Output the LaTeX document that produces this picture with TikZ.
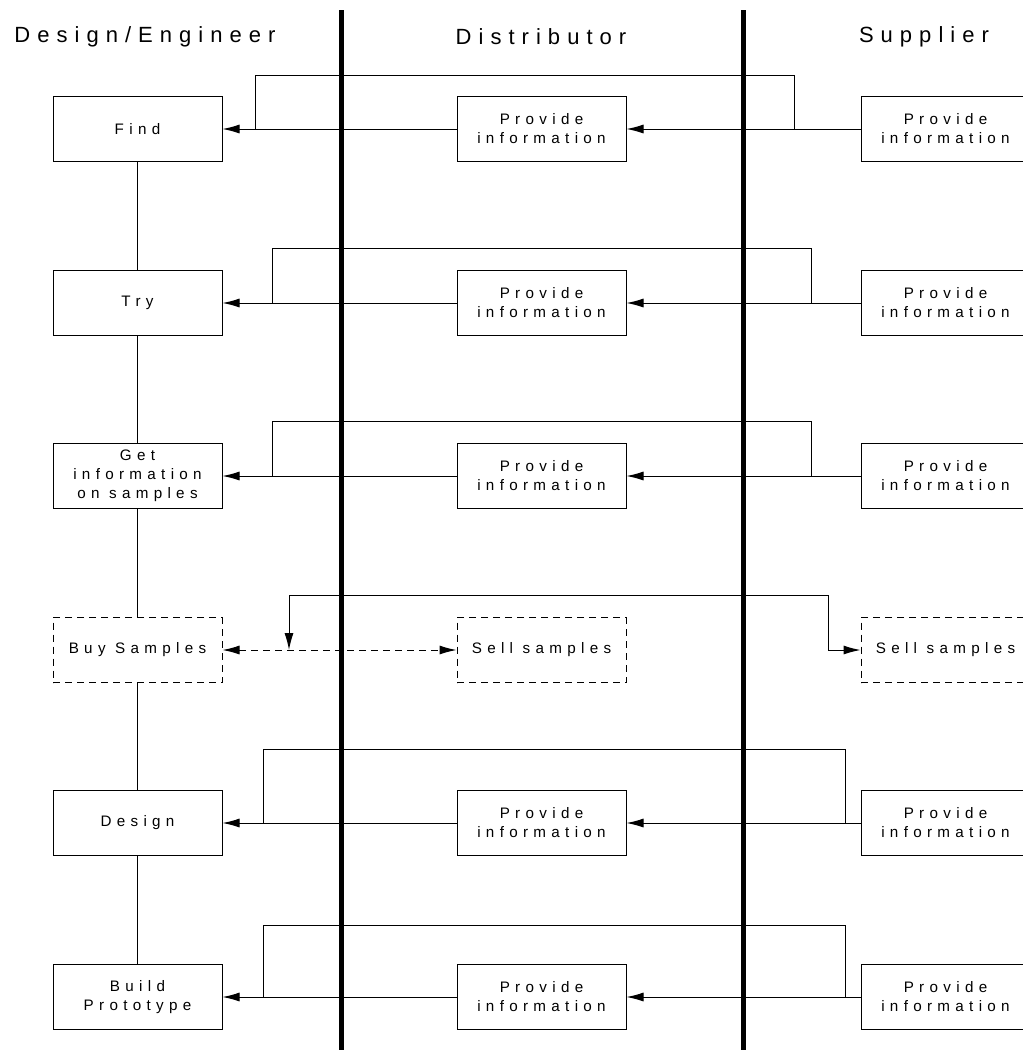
\documentclass[tikz,border=0pt]{standalone}
\usepackage{fontspec}
\newfontfamily\headfont[LetterSpace=32]{Liberation Sans}
\newfontfamily\boxfont[LetterSpace=35]{Liberation Sans}
\usetikzlibrary{arrows.meta}

\begin{document}
\begin{tikzpicture}[x=0.5pt,y=-0.5pt,line width=0.5pt,
  box/.style={draw,rectangle,minimum width=84.5pt,minimum height=32.5pt,align=center,
    font=\boxfont\fontsize{7.6}{9.5}\selectfont},
  dbox/.style={box,dash pattern=on 3.5pt off 2.5pt},
  lane/.style={line width=2.5pt},
  flow/.style={-{Latex[length=8.5pt,width=4.5pt]}},
  twoflow/.style={{Latex[length=8.5pt,width=4.5pt]}-{Latex[length=8.5pt,width=4.5pt]}},
  head/.style={font=\headfont\fontsize{11}{13}\selectfont}]
  \clip (0,0) rectangle (1023,1050);

  % lanes
  \node[head] (hdesign) at (145,37) {Design/Engineer};
  \node[head] (hdist) at (541,37) {Distributor};
  \node[head] (hsup) at (924,37) {Supplier};
  \draw[lane] (341,10) -- (341,1050);
  \draw[lane] (743,10) -- (743,1050);

  % design / engineer
  \node[box] (find) at (137.5,129) {Find};
  \node[box] (try) at (137.5,303) {Try};
  \node[box] (getinfo) at (137.5,476) {Get\\information\\on samples};
  \node[dbox] (buy) at (137.5,650) {Buy Samples};
  \node[box] (design) at (137.5,823) {Design};
  \node[box] (build) at (137.5,997) {Build\\Prototype};

  % distributor
  \node[box] (dist1) at (541.5,129) {Provide\\information};
  \node[box] (dist2) at (541.5,303) {Provide\\information};
  \node[box] (dist3) at (541.5,476) {Provide\\information};
  \node[dbox] (dist4) at (541.5,650) {Sell samples};
  \node[box] (dist5) at (541.5,823) {Provide\\information};
  \node[box] (dist6) at (541.5,997) {Provide\\information};

  % supplier
  \node[box] (sup1) at (945.5,129) {Provide\\information};
  \node[box] (sup2) at (945.5,303) {Provide\\information};
  \node[box] (sup3) at (945.5,476) {Provide\\information};
  \node[dbox] (sup4) at (945.5,650) {Sell samples};
  \node[box] (sup5) at (945.5,823) {Provide\\information};
  \node[box] (sup6) at (945.5,997) {Provide\\information};

  % design chain
  \draw (find) -- (try);
  \draw (try) -- (getinfo);
  \draw (getinfo) -- (buy);
  \draw (buy) -- (design);
  \draw (design) -- (build);

  % information flows
  \draw[flow] (sup1) -- (dist1);
  \draw[flow] (dist1) -- (find);
  \draw (sup1.west) -| (794,75) -| (255,129);

  \draw[flow] (sup2) -- (dist2);
  \draw[flow] (dist2) -- (try);
  \draw (sup2.west) -| (811,248) -| (272,303);

  \draw[flow] (sup3) -- (dist3);
  \draw[flow] (dist3) -- (getinfo);
  \draw (sup3.west) -| (811,421) -| (272,476);

  \draw[twoflow,dash pattern=on 3.5pt off 2.5pt] (buy) -- (dist4);
  \draw[twoflow] (289,650) |- (828,595) |- (sup4.west);

  \draw[flow] (sup5) -- (dist5);
  \draw[flow] (dist5) -- (design);
  \draw (sup5.west) -| (845,749) -| (263,823);

  \draw[flow] (sup6) -- (dist6);
  \draw[flow] (dist6) -- (build);
  \draw (sup6.west) -| (845,925) -| (263,997);
\end{tikzpicture}
\end{document}
